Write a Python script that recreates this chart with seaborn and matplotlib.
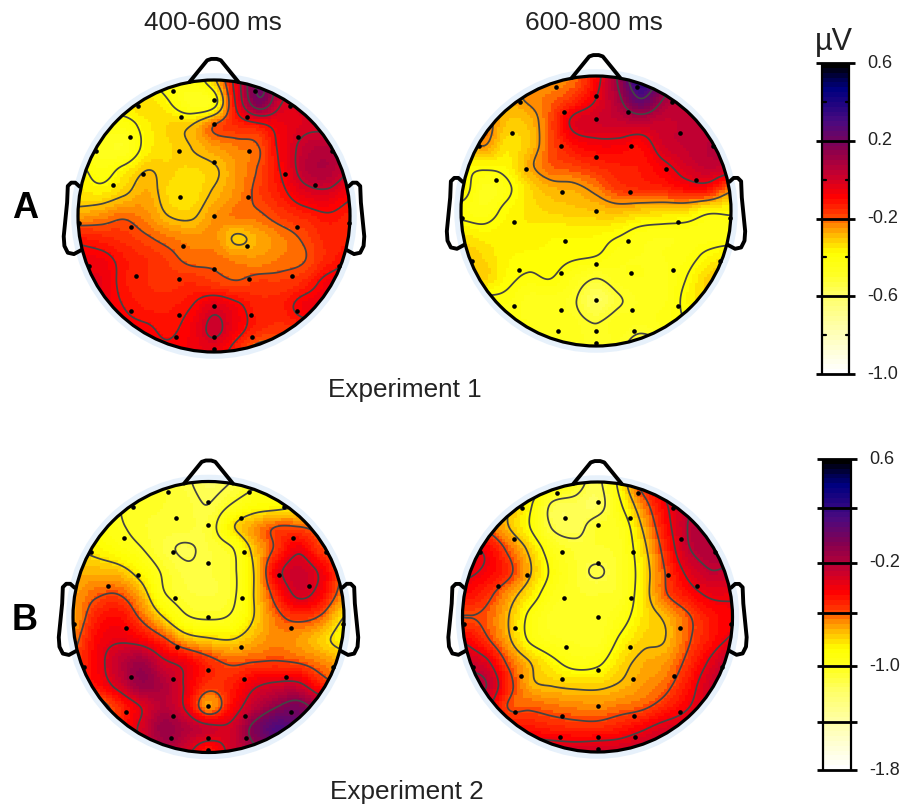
import matplotlib
matplotlib.use("Agg")
import matplotlib.pyplot as plt
from matplotlib.colors import LinearSegmentedColormap
from matplotlib.patches import Circle
import numpy as np
import seaborn as sns

# electrode montage, head units (nose up, radius 1)
electrode_x = [-.30, 0, .30, -.56, .56, -.24, 0, .24, -.62, .62, -.87, -.26, .26, .87, 0, -.52, .52, -.74, .74,
               -.25, .25, 0, -.99, -.61, .61, .99, -.23, .24, 0, -.92, .92, -.57, -.26, .26, .57, -.61, -.26, 0,
               .27, .61, -.28, 0, .28, 0]
electrode_y = [.92, .85, .92, .81, .81, .73, .68, .73, .58, .58, .48, .48, .48, .48, .40, .31, .31, .23, .23,
               .14, .14, 0, -.05, -.08, -.08, -.05, -.22, -.22, -.39, -.37, -.37, -.44, -.46, -.46, -.44, -.70,
               -.73, -.66, -.73, -.70, -.89, -.89, -.89, -.98]

# voltage at 13 x 13 nodes, top row first
a_400_600 = [
    [-.35, -.35, -.35, -.38, -.42, -.43, -.32, -.05, .22, .05, -.02, -.05, -.05],
    [-.34, -.34, -.34, -.33, -.38, -.46, -.42, -.08, .17, .0, -.02, -.04, -.04],
    [-.42, -.43, -.42, -.36, -.32, -.3, -.2, -.15, -.12, -.06, -.02, -.02, -.02],
    [-.45, -.46, -.47, -.36, -.33, -.3, -.26, -.23, -.2, -.07, .03, .06, .03],
    [-.36, -.42, -.36, -.3, -.32, -.33, -.31, -.25, -.19, -.09, .04, .07, .0],
    [-.34, -.35, -.31, -.27, -.33, -.34, -.29, -.24, -.18, -.12, -.04, -.02, -.08],
    [-.26, -.24, -.21, -.24, -.3, -.31, -.25, -.22, -.21, -.17, -.14, -.11, -.13],
    [-.12, -.14, -.16, -.19, -.22, -.24, -.24, -.31, -.27, -.23, -.19, -.14, -.13],
    [-.07, -.07, -.12, -.15, -.18, -.21, -.21, -.23, -.24, -.22, -.2, -.14, -.1],
    [-.05, -.05, -.12, -.15, -.16, -.15, -.17, -.19, -.17, -.17, -.14, -.07, -.05],
    [-.05, -.06, -.1, -.13, -.13, -.1, -.03, -.08, -.14, -.13, -.07, -.06, -.05],
    [-.06, -.06, -.08, -.09, -.11, -.07, .02, -.07, -.14, -.16, -.14, -.1, -.08],
    [-.06, -.06, -.07, -.08, -.09, -.07, -.05, -.14, -.24, -.22, -.16, -.1, -.08],
]
a_600_800 = [
    [-.25, -.25, -.25, -.25, -.25, -.22, -.09, .12, .38, .2, .05, .0, .0],
    [-.3, -.3, -.28, -.24, -.21, -.15, -.05, .08, .25, .1, .02, .0, .0],
    [-.25, -.22, -.3, -.29, -.18, -.03, .0, .02, .04, .02, .03, .03, .03],
    [-.3, -.24, -.34, -.3, -.19, -.1, -.07, -.07, -.09, .0, .03, .05, .05],
    [-.38, -.38, -.37, -.27, -.2, -.18, -.15, -.13, -.12, -.07, -.01, .03, .02],
    [-.36, -.46, -.42, -.33, -.28, -.27, -.23, -.17, -.15, -.14, -.1, -.1, -.22],
    [-.42, -.44, -.38, -.34, -.32, -.31, -.3, -.29, -.31, -.32, -.33, -.38, -.38],
    [-.35, -.37, -.36, -.36, -.37, -.37, -.37, -.39, -.43, -.44, -.44, -.44, -.44],
    [-.3, -.33, -.37, -.38, -.38, -.39, -.4, -.44, -.45, -.45, -.43, -.38, -.35],
    [-.32, -.32, -.38, -.41, -.4, -.45, -.5, -.46, -.45, -.46, -.4, -.32, -.3],
    [-.4, -.42, -.42, -.46, -.46, -.49, -.58, -.51, -.47, -.46, -.38, -.33, -.33],
    [-.45, -.45, -.45, -.45, -.46, -.47, -.5, -.46, -.47, -.44, -.4, -.35, -.35],
    [-.45, -.45, -.45, -.45, -.46, -.46, -.49, -.48, -.54, -.5, -.42, -.38, -.38],
]
b_400_600 = [
    [-1, -1, -1, -1.02, -1.05, -1.1, -1.17, -1.12, -1.03, -.95, -.9, -.9, -.9],
    [-1, -1, -1, -1.03, -1.05, -1.07, -1.12, -1.0, -.9, -.87, -.82, -.8, -.8],
    [-.9, -.92, -.98, -1.04, -1.07, -1.08, -1.07, -.83, -.68, -.58, -.58, -.62, -.62],
    [-.8, -.84, -.91, -.99, -1.09, -1.13, -1.09, -1.02, -.76, -.55, -.38, -.55, -.6],
    [-.72, -.72, -.74, -.86, -1.02, -1.1, -1.09, -1.04, -.8, -.41, -.28, -.38, -.6],
    [-.68, -.6, -.58, -.72, -.98, -1.07, -1.09, -1.04, -.8, -.52, -.32, -.42, -.65],
    [-.68, -.5, -.45, -.6, -.8, -.98, -1.02, -.98, -.8, -.62, -.54, -.6, -.8],
    [-.62, -.43, -.37, -.42, -.55, -.72, -.78, -.8, -.72, -.65, -.68, -.76, -.85],
    [-.55, -.42, -.25, -.15, -.32, -.4, -.53, -.6, -.58, -.57, -.59, -.65, -.72],
    [-.5, -.45, -.3, -.12, -.2, -.37, -.53, -.5, -.38, -.32, -.32, -.5, -.6],
    [-.65, -.65, -.52, -.35, -.22, -.37, -.68, -.45, -.25, -.1, -.03, -.2, -.4],
    [-.6, -.55, -.5, -.32, -.12, -.2, -.28, -.3, -.05, .12, .05, -.05, -.2],
    [-.5, -.5, -.45, -.35, -.2, -.3, -.48, -.3, -.15, .0, .0, -.05, -.2],
]
b_600_800 = [
    [-.7, -.7, -.75, -.8, -.88, -1.03, -1.13, -.85, -.52, -.35, -.25, -.25, -.25],
    [-.65, -.68, -.74, -.88, -1.12, -1.14, -1.16, -.92, -.65, -.42, -.27, -.25, -.25],
    [-.55, -.6, -.74, -.9, -1.11, -1.14, -1.04, -1.0, -.74, -.47, -.25, -.2, -.2],
    [-.4, -.42, -.6, -.78, -.98, -1.06, -1.06, -1.02, -.8, -.53, -.27, -.2, -.2],
    [-.38, -.42, -.54, -.74, -.93, -1.05, -1.11, -1.03, -.83, -.58, -.37, -.26, -.28],
    [-.45, -.53, -.68, -.83, -.98, -1.04, -1.05, -1.02, -.82, -.6, -.47, -.38, -.38],
    [-.58, -.6, -.74, -.93, -1.03, -1.04, -1.04, -.96, -.82, -.73, -.6, -.48, -.42],
    [-.42, -.55, -.72, -.92, -1.0, -1.02, -1.03, -.88, -.78, -.75, -.6, -.48, -.38],
    [-.28, -.36, -.6, -.75, -.87, -.95, -.93, -.8, -.72, -.68, -.55, -.38, -.22],
    [-.24, -.24, -.52, -.72, -.76, -.78, -.78, -.74, -.68, -.62, -.48, -.3, -.2],
    [-.3, -.35, -.58, -.6, -.63, -.65, -.66, -.63, -.6, -.52, -.41, -.3, -.25],
    [-.35, -.4, -.45, -.47, -.5, -.52, -.52, -.48, -.41, -.33, -.3, -.28, -.25],
    [-.3, -.3, -.3, -.3, -.31, -.32, -.3, -.3, -.25, -.22, -.22, -.22, -.22],
]

# contour levels seen on each map
levels_a1 = [-.385, -.3, -.2, -.1, 0, .1, .2, .3]
levels_a2 = [-.5, -.4, -.25, -.05, .1, .25]
levels_b1 = [-1.12, -1.0, -.8, -.58, -.35, -.1]
levels_b2 = [-1.1, -.9, -.75, -.58, -.4, -.25]

scale_a = [-1.0, 0.6]
scale_b = [-1.8, 0.6]
ticks_a = [0.6, 0.2, -0.2, -0.6, -1.0]
minor_a = [0.4, 0.0, -0.4, -0.8]
ticks_b = [0.6, 0.22, -0.2, -0.59, -1.0, -1.43, -1.8]
labels_b = ["0.6", "", "-0.2", "", "-1.0", "", "-1.8"]

sns.set_theme(style="white")
plt.rcParams["font.family"] = ["Liberation Sans", "DejaVu Sans"]

W, H = 901, 807
fig = plt.figure(figsize=(W / 100, H / 100), dpi=100)

erp = LinearSegmentedColormap.from_list("erp", [
    (0, "#ffffff"), (.082, "#ffffd0"), (.173, "#ffff99"), (.25, "#ffff66"), (.32, "#ffff22"),
    (.39, "#ffff00"), (.44, "#ffc000"), (.484, "#ff8000"), (.51, "#ff4000"), (.57, "#ff0000"),
    (.645, "#c40030"), (.73, "#850050"), (.815, "#4a0a80"), (.92, "#000080"), (.955, "#000050"),
    (1, "#000000")], N=64)


def px_axes(left, top, right, bottom):
    return fig.add_axes([left / W, 1 - bottom / H, (right - left) / W, (bottom - top) / H])


def spline_weights(m, n):
    # Catmull-Rom weights taking m nodes to n samples
    pos = np.linspace(0, m - 1, n)
    w = np.zeros((n, m))
    for k, p in enumerate(pos):
        i = min(int(p), m - 2)
        t = p - i
        coef = [(-t**3 + 2 * t**2 - t) / 2, (3 * t**3 - 5 * t**2 + 2) / 2,
                (-3 * t**3 + 4 * t**2 + t) / 2, (t**3 - t**2) / 2]
        for off, c in zip([-1, 0, 1, 2], coef):
            w[k, np.clip(i + off, 0, m - 1)] += c
    return w


def smooth(grid, n):
    z = np.array(grid, dtype=float)
    return spline_weights(z.shape[0], n) @ z @ spline_weights(z.shape[1], n).T


def draw_head(grid, levels, scale, cx, cy, r):
    N = 90
    ax = px_axes(cx - r, cy - r, cx + r, cy + r)
    sns.heatmap(smooth(grid, N), ax=ax, cmap=erp, vmin=scale[0], vmax=scale[1], cbar=False,
                xticklabels=False, yticklabels=False, rasterized=True)
    ax.patch.set_visible(False)

    def mx(x):
        return (np.asarray(x) + 1) / 2 * N

    def my(y):
        return (1 - np.asarray(y)) / 2 * N

    clip = Circle((N / 2, N / 2), N / 2, transform=ax.transData)
    ax.collections[0].set_clip_path(clip)

    fine = smooth(grid, 361)
    xs = np.linspace(0, N, 361)
    cs = ax.contour(xs, xs, fine, levels=levels, colors="#444444", linewidths=1.25, linestyles="solid")
    cs.set_clip_path(clip)

    ax.add_patch(Circle((N / 2, N / 2), N / 2 * 1.05, fc="#e7f1fb", ec="none", zorder=0, clip_on=False))
    ax.add_patch(Circle((N / 2, N / 2), N / 2, fc="none", ec="black", lw=2.3, zorder=5, clip_on=False))

    nose_x = [-.18, -.05, -.02, .02, .05, .18]
    nose_y = [.985, 1.145, 1.155, 1.155, 1.145, .985]
    ear_x = [.988, 1.02, 1.05, 1.075, 1.08, 1.09, 1.105, 1.10, 1.075, 1.03, .975]
    ear_y = [.216, .245, .245, .22, .1, 0, -.15, -.22, -.27, -.28, -.25]
    ax.plot(mx(nose_x), my(nose_y), color="black", lw=2.8, clip_on=False, solid_joinstyle="round", zorder=4)
    for side in (-1, 1):
        ax.plot(mx(side * np.array(ear_x)), my(ear_y), color="black", lw=2.8, clip_on=False,
                solid_joinstyle="round", zorder=4)

    sns.scatterplot(x=mx(electrode_x), y=my(electrode_y), ax=ax, color="black", s=11, linewidth=0,
                    legend=False, clip_on=False, zorder=6)
    ax.set_xlim(0, N)
    ax.set_ylim(N, 0)
    ax.set_axis_off()


def draw_scale(scale, major, labels, minor, left, top, right, bottom, reach):
    n = 64
    col = np.linspace(scale[1], scale[0], n).reshape(-1, 1)
    ax = px_axes(left, top, right, bottom)
    sns.heatmap(col, ax=ax, cmap=erp, vmin=scale[0], vmax=scale[1], cbar=False,
                xticklabels=False, yticklabels=False)

    def vy(v):
        return (scale[1] - v) / (scale[1] - scale[0]) * n

    ax.set_axis_off()
    ax.vlines([0, 1], 0, n, color="black", lw=1.6, clip_on=False)
    ext = reach / (right - left)
    for v, lab in zip(major, labels):
        ax.plot([-ext, 1 + ext], [vy(v), vy(v)], color="black", lw=2.0, clip_on=False, solid_capstyle="butt")
        if lab:
            ax.text(1 + 18 / (right - left), vy(v) + 0.02, lab, fontsize=13, color="#222222",
                    va="center", ha="left", clip_on=False)
    for v in minor:
        ax.plot([0, 3.5 / (right - left)], [vy(v), vy(v)], color="black", lw=1.6, clip_on=False)
        ax.plot([1 - 3.5 / (right - left), 1], [vy(v), vy(v)], color="black", lw=1.6, clip_on=False)


draw_head(a_400_600, levels_a1, scale_a, 214, 216, 136)
draw_head(a_600_800, levels_a2, scale_a, 596, 211, 135)
draw_head(b_400_600, levels_b1, scale_b, 208.5, 617, 135.5)
draw_head(b_600_800, levels_b2, scale_b, 597.5, 617, 135)

draw_scale(scale_a, ticks_a, [str(t) for t in ticks_a], minor_a, 822, 63, 849, 374, 6)
draw_scale(scale_b, ticks_b, labels_b, [], 823, 459, 851, 770, 6)


def label(x, y, s, **kw):
    fig.text(x / W, 1 - y / H, s, ha="center", va="center", color="#222222", **kw)


label(213, 23, "400-600 ms", fontsize=18.8)
label(594, 23, "600-800 ms", fontsize=18.8)
label(405, 390, "Experiment 1", fontsize=18.8)
label(407, 792, "Experiment 2", fontsize=18.8)
label(834, 42, "\u00b5V", fontsize=22)
fig.text(25 / W, 1 - 209 / H, "A", ha="center", va="center", fontsize=26, fontweight="bold", color="black")
fig.text(25 / W, 1 - 621 / H, "B", ha="center", va="center", fontsize=26, fontweight="bold", color="black")

fig.savefig("out.png", dpi=100)
